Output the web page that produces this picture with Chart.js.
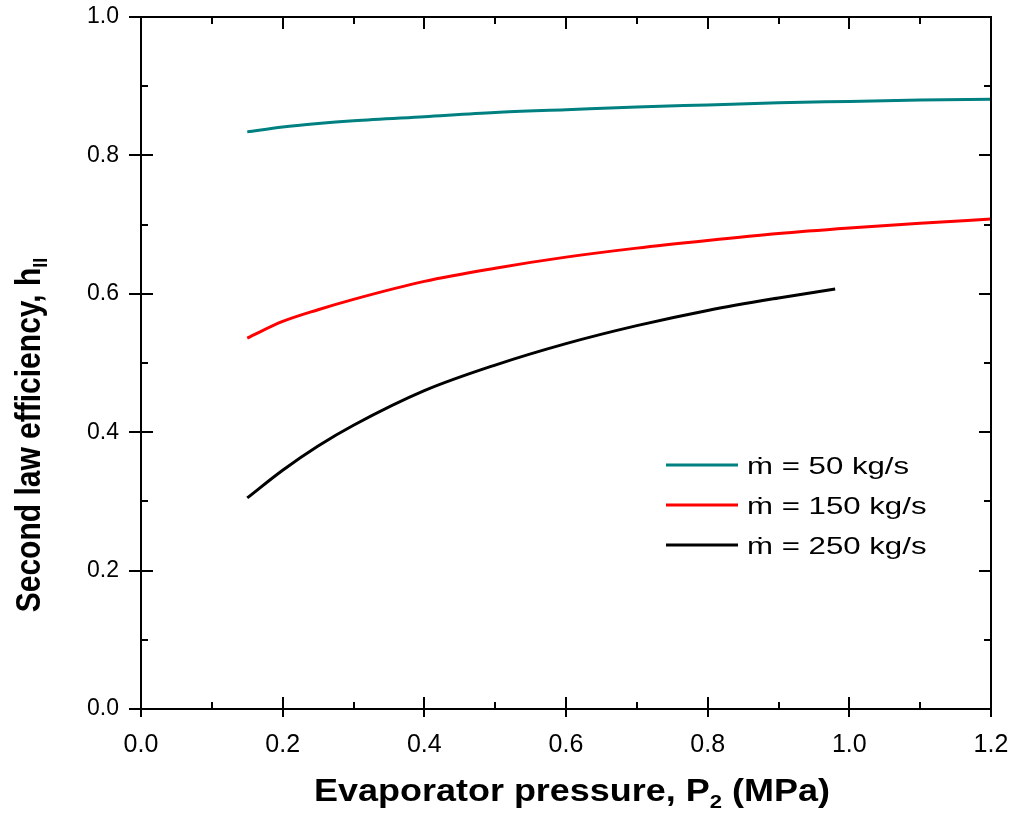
<!DOCTYPE html>
<html>
<head>
<meta charset="utf-8">
<script src="https://cdn.jsdelivr.net/npm/chart.js@4.4.1/dist/chart.umd.min.js"></script>
<style>
  html, body { margin: 0; padding: 0; background: #fff; }
  #wrap { width: 1013px; height: 816px; }
</style>
</head>
<body>
<div id="wrap"><canvas id="myChart" width="1013" height="816"></canvas></div>
<script>
// Data
const pressure50 = [0.15, 0.2, 0.25, 0.3, 0.4, 0.5, 0.6, 0.7, 0.8, 0.9, 1.0, 1.1, 1.2];
const eff50 = [0.834, 0.841, 0.846, 0.850, 0.856, 0.862, 0.866, 0.870, 0.873, 0.876, 0.878, 0.880, 0.881];

const pressure150 = [0.15, 0.2, 0.25, 0.3, 0.4, 0.5, 0.6, 0.7, 0.8, 0.9, 1.0, 1.1, 1.2];
const eff150 = [0.536, 0.560, 0.577, 0.592, 0.618, 0.637, 0.653, 0.666, 0.677, 0.687, 0.695, 0.702, 0.708];

const pressure250 = [0.15, 0.2, 0.25, 0.3, 0.4, 0.5, 0.6, 0.7, 0.8, 0.9, 0.98];
const eff250 = [0.305, 0.345, 0.380, 0.410, 0.460, 0.497, 0.528, 0.554, 0.576, 0.594, 0.607];

const seriesLabels = ['\u1E41 = 50 kg/s', '\u1E41 = 150 kg/s', '\u1E41 = 250 kg/s'];
const seriesColors = ['#008080', '#ff0000', '#000000'];

const xTicks = [0.0, 0.2, 0.4, 0.6, 0.8, 1.0, 1.2];
const yTicks = [0.0, 0.2, 0.4, 0.6, 0.8, 1.0];
const xMinor = [0.1, 0.3, 0.5, 0.7, 0.9, 1.1];
const yMinor = [0.1, 0.3, 0.5, 0.7, 0.9];

const FONT = '"Liberation Sans", Arial, sans-serif';

function toPoints(xs, ys) {
  return xs.map((x, i) => ({ x: x, y: ys[i] }));
}

// frame, ticks on all sides, axis titles and legend
const decorPlugin = {
  id: 'decor',
  afterDraw(chart) {
    const ctx = chart.ctx;
    const a = chart.chartArea;
    const xs = chart.scales.x;
    const ys = chart.scales.y;
    ctx.save();
    ctx.strokeStyle = '#000';
    ctx.lineWidth = 2;
    ctx.strokeRect(a.left, a.top, a.right - a.left, a.bottom - a.top);

    ctx.beginPath();
    xTicks.forEach(v => {
      const px = Math.round(xs.getPixelForValue(v));
      ctx.moveTo(px, a.bottom + 8); ctx.lineTo(px, a.bottom - 12);
      ctx.moveTo(px, a.top); ctx.lineTo(px, a.top + 12);
    });
    xMinor.forEach(v => {
      const px = Math.round(xs.getPixelForValue(v));
      ctx.moveTo(px, a.bottom); ctx.lineTo(px, a.bottom - 7);
      ctx.moveTo(px, a.top); ctx.lineTo(px, a.top + 7);
    });
    yTicks.forEach(v => {
      const py = Math.round(ys.getPixelForValue(v));
      ctx.moveTo(a.left - 12, py); ctx.lineTo(a.left + 12, py);
      ctx.moveTo(a.right, py); ctx.lineTo(a.right - 12, py);
    });
    yMinor.forEach(v => {
      const py = Math.round(ys.getPixelForValue(v));
      ctx.moveTo(a.left, py); ctx.lineTo(a.left + 7, py);
      ctx.moveTo(a.right, py); ctx.lineTo(a.right - 7, py);
    });
    ctx.stroke();

    // x axis title with subscript (stretched a bit like the original)
    ctx.fillStyle = '#000';
    ctx.textBaseline = 'alphabetic';
    const big = 'bold 31px ' + FONT;
    const small = 'bold 19px ' + FONT;
    const p1 = 'Evaporator pressure, P', p2 = '2', p3 = ' (MPa)';
    ctx.font = big; const w1 = ctx.measureText(p1).width; const w3 = ctx.measureText(p3).width;
    ctx.font = small; const w2 = ctx.measureText(p2).width;
    ctx.save();
    ctx.translate(572, 801);
    ctx.scale(1.16, 1);
    let x0 = -(w1 + w2 + w3) / 2;
    ctx.font = big; ctx.fillText(p1, x0, 0);
    ctx.font = small; ctx.fillText(p2, x0 + w1, 7);
    ctx.font = big; ctx.fillText(p3, x0 + w1 + w2, 0);
    ctx.restore();

    // y axis title, rotated, with subscript
    ctx.save();
    ctx.translate(40, 435);
    ctx.rotate(-Math.PI / 2);
    ctx.scale(1, 1.15);
    const yBig = 'bold 30px ' + FONT;
    const ySmall = 'bold 18px ' + FONT;
    const q1 = 'Second law efficiency, h', q2 = 'II';
    ctx.font = yBig; const v1 = ctx.measureText(q1).width;
    ctx.font = ySmall; const v2 = ctx.measureText(q2).width;
    const sx = -(v1 + v2) / 2;
    ctx.font = yBig; ctx.fillText(q1, sx, 0);
    ctx.font = ySmall; ctx.fillText(q2, sx + v1, 6);
    ctx.restore();

    // legend
    ctx.textBaseline = 'middle';
    chart.data.datasets.forEach((ds, i) => {
      const ly = 465 + i * 40;
      ctx.strokeStyle = ds.borderColor;
      ctx.lineWidth = 3;
      ctx.beginPath();
      ctx.moveTo(666, ly); ctx.lineTo(738, ly);
      ctx.stroke();
      ctx.save();
      ctx.translate(747, ly + 2);
      ctx.scale(1.3, 1);
      ctx.font = '24px ' + FONT;
      ctx.fillStyle = '#000';
      ctx.fillText(ds.label, 0, 0);
      ctx.restore();
    });
    ctx.restore();
  }
};

const ctx = document.getElementById('myChart').getContext('2d');
const myChart = new Chart(ctx, {
  type: 'line',
  data: {
    datasets: [
      { label: seriesLabels[0], data: toPoints(pressure50, eff50), borderColor: seriesColors[0] },
      { label: seriesLabels[1], data: toPoints(pressure150, eff150), borderColor: seriesColors[1] },
      { label: seriesLabels[2], data: toPoints(pressure250, eff250), borderColor: seriesColors[2] }
    ]
  },
  options: {
    responsive: false,
    animation: false,
    devicePixelRatio: 1,
    elements: {
      line: { borderWidth: 3, tension: 0.4, cubicInterpolationMode: 'monotone', fill: false },
      point: { radius: 0 }
    },
    layout: { padding: { top: 17, right: 22, left: 0, bottom: 0 } },
    plugins: {
      legend: { display: false },
      tooltip: { enabled: false }
    },
    scales: {
      x: {
        type: 'linear',
        min: 0, max: 1.2,
        grid: { display: false },
        border: { display: false },
        afterBuildTicks: s => { s.ticks = xTicks.map(v => ({ value: v })); },
        afterFit: s => { s.height = 107; s.paddingLeft = 0; s.paddingRight = 0; },
        ticks: {
          padding: 13,
          color: '#000',
          font: { family: FONT, size: 25 },
          callback: v => v.toFixed(1)
        }
      },
      y: {
        min: 0, max: 1.0,
        grid: { display: false },
        border: { display: false },
        afterBuildTicks: s => { s.ticks = yTicks.map(v => ({ value: v })); },
        afterFit: s => { s.width = 141; s.paddingTop = 0; s.paddingBottom = 0; },
        ticks: {
          padding: 14,
          color: '#000',
          font: { family: FONT, size: 23 },
          callback: v => v.toFixed(1)
        }
      }
    }
  },
  plugins: [decorPlugin]
});
</script>
</body>
</html>
